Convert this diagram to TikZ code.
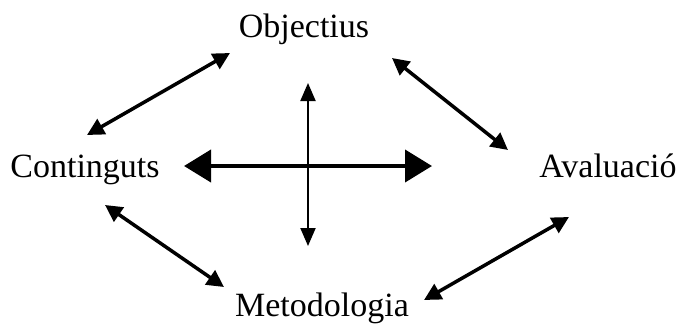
\documentclass[tikz,border=0pt]{standalone}
\usepackage{fontspec}
\setmainfont{Liberation Serif}
\usetikzlibrary{arrows.meta}
\begin{document}
\begin{tikzpicture}[x=1pt,y=-1pt,
  lbl/.style={inner sep=0pt,anchor=base,font=\fontsize{34}{40}\selectfont},
  diag/.style={line width=3.5pt,{Triangle[length=17pt,width=17pt]}-{Triangle[length=17pt,width=17pt]}},
  big/.style={line width=4pt,{Triangle[length=27pt,width=32pt]}-{Triangle[length=27pt,width=32pt]}},
  thin/.style={line width=2pt,{Triangle[length=18pt,width=15pt]}-{Triangle[length=18pt,width=15pt]}}]
\useasboundingbox (0,0) rectangle (680,325);
\node[lbl] (obj) at (304,37) {Objectius};
\node[lbl] (con) at (85,177) {Continguts};
\node[lbl] (ava) at (608,177) {Avaluació};
\node[lbl] (met) at (322,316) {Metodologia};
\coordinate (a1) at (87,135); \coordinate (a2) at (230,53);
\coordinate (b1) at (392,58); \coordinate (b2) at (508,150);
\coordinate (c1) at (105,205); \coordinate (c2) at (224,287);
\coordinate (d1) at (424,300); \coordinate (d2) at (569,217);
\coordinate (h1) at (184,166); \coordinate (h2) at (432,166);
\coordinate (v1) at (308,83); \coordinate (v2) at (308,246);
\draw[diag] (a1) -- (a2);
\draw[diag] (b1) -- (b2);
\draw[diag] (c1) -- (c2);
\draw[diag] (d1) -- (d2);
\draw[big] (h1) -- (h2);
\draw[thin] (v1) -- (v2);
\end{tikzpicture}
\end{document}
